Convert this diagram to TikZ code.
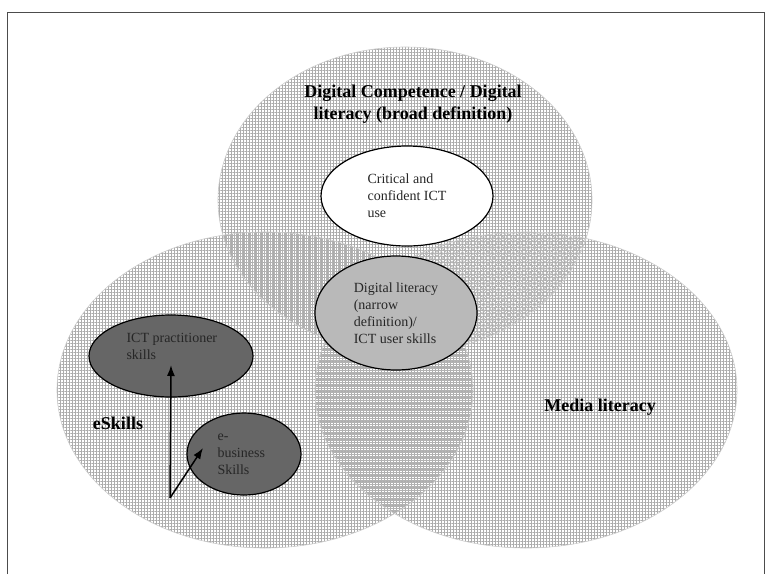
\documentclass[tikz,border=0pt]{standalone}
\usepackage{fontspec}
\setmainfont{Liberation Serif}
\usetikzlibrary{positioning, arrows.meta, shapes.geometric, patterns.meta}

\tikzset{
  setfill/.style={pattern={Hatch[angle=0, distance=3pt, line width=0.45pt]}, pattern color=gray!65},
  setline/.style={draw=gray!40, line width=0.6pt},
  ellbox/.style={draw, ellipse, line width=1.2pt, inner sep=0pt},
  innertext/.style={align=left, text=black!85, font=\fontsize{14}{17}\selectfont},
  setlabel/.style={align=center, font=\bfseries\fontsize{18}{22}\selectfont},
}

\begin{document}
\begin{tikzpicture}[x=1pt, y=-1pt, >={Latex[length=11pt, width=8pt]}]
  \useasboundingbox (0,0) rectangle (773,574);
  % Frame
  \draw[black!70, line width=1pt] (7.5,574) -- (7.5,12.5) -- (764.5,12.5) -- (764.5,574);

  % The three sets
  \path[setfill] (405,200) ellipse [x radius=187pt, y radius=153pt];
  \path[setfill] (265,390) ellipse [x radius=208pt, y radius=158pt];
  \path[setfill] (526,390) ellipse [x radius=211pt, y radius=158pt];

  % Overlaps
  \begin{scope}
    \clip (265,390) ellipse [x radius=208pt, y radius=158pt];
    \path[pattern={Lines[angle=0, distance=2pt, line width=0.5pt]}, pattern color=gray!60] (526,390) ellipse [x radius=211pt, y radius=158pt];
    \path[pattern={Lines[angle=90, distance=2pt, line width=0.5pt]}, pattern color=gray!60] (405,200) ellipse [x radius=187pt, y radius=153pt];
  \end{scope}
  \begin{scope}
    \clip (526,390) ellipse [x radius=211pt, y radius=158pt];
    \path[pattern={Hatch[angle=45, distance=3pt, line width=0.5pt]}, pattern color=gray!55] (405,200) ellipse [x radius=187pt, y radius=153pt];
  \end{scope}

  % Outlines
  \draw[setline] (405,200) ellipse [x radius=187pt, y radius=153pt];
  \draw[setline] (265,390) ellipse [x radius=208pt, y radius=158pt];
  \draw[setline] (526,390) ellipse [x radius=211pt, y radius=158pt];

  % Set labels
  \node[setlabel] (dclabel) at (413,104) {Digital Competence / Digital\\literacy (broad definition)};
  \node[setlabel] (esklabel) at (118,423) {eSkills};
  \node[setlabel] (medialabel) at (600,407) {Media literacy};

  % Inner ellipses
  \node[ellbox, fill=white, minimum width=172pt, minimum height=100pt, innertext] (critical) at (407,196) {Critical and\\confident ICT\\use};
  \node[ellbox, fill=gray!55, minimum width=162pt, minimum height=114pt, innertext] (narrow) at (396,313) {Digital literacy\\(narrow\\definition)/\\ICT user skills};
  \node[ellbox, fill=black!60, minimum width=164pt, minimum height=82pt] (practitioner) at (171,356) {};
  \node[ellbox, fill=black!60, minimum width=114pt, minimum height=82pt] (ebusiness) at (244,454) {};
  \node[innertext, anchor=west] (practext) at ([xshift=-48pt, yshift=10pt]practitioner.center) {ICT practitioner\\skills};
  \node[innertext, anchor=west] (ebiztext) at ([xshift=-30pt]ebusiness.center) {e-\\business\\Skills};

  % Arrows
  \coordinate (fork) at (170,498);
  \draw[->, line width=1.5pt] (fork) -- ([yshift=-9pt]practitioner.center);
  \draw[->, line width=1.5pt] (fork) -- ([shift={(-41pt,6pt)}]ebusiness.center);
\end{tikzpicture}
\end{document}
